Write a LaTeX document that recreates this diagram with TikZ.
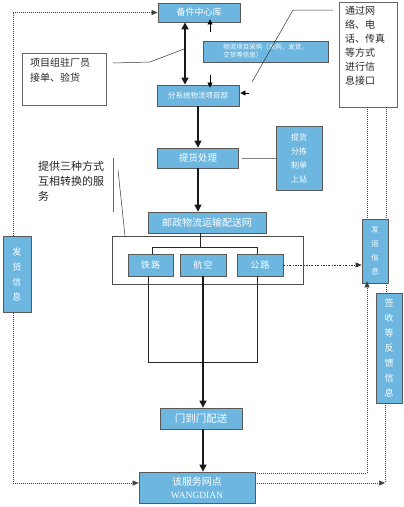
\documentclass[tikz,border=0pt]{standalone}
\usepackage{fontspec}
\setmainfont{Liberation Serif}
\newfontfamily\cjk{Noto Sans CJK SC}
\usetikzlibrary{arrows.meta}
\definecolor{boxblue}{RGB}{108,182,224}
\tikzset{
  bluebox/.style={draw=black!65, fill=boxblue, line width=0.8pt, inner sep=0pt, text=white, align=center},
  notebox/.style={draw=black!60, line width=0.6pt},
  notetext/.style={text=black!85, align=left, inner sep=0pt, anchor=north west},
  flow/.style={line width=1.4pt, black!90, -{Triangle[length=7pt,width=7pt]}},
  dblflow/.style={line width=1.6pt, black!90, {Triangle[length=7pt,width=7pt]}-{Triangle[length=7pt,width=7pt]}},
  thinline/.style={line width=1pt, black!85},
  dotline/.style={line width=0.5pt, black!75, dash pattern=on 0.8pt off 1.2pt},
  dashdotline/.style={line width=0.6pt, black!80, dash pattern=on 2pt off 1.5pt on 0.6pt off 1.5pt},
  dottip/.style={-{Triangle[length=6pt,width=5pt]}},
  smalltip/.style={line width=0.6pt, -{Triangle[length=5pt,width=5pt]}},
  callout/.style={line width=0.5pt, black!80},
}
\begin{document}
\begin{tikzpicture}[x=1pt,y=-1pt]
\useasboundingbox (0,0) rectangle (404,507);

% group frame
\node[draw=black!70, line width=0.7pt, minimum width=191pt, minimum height=48pt, inner sep=0pt] (grp) at (207.5,260) {};

% blue boxes
\node[bluebox, minimum width=82pt, minimum height=19pt, font=\cjk\fontsize{9}{10}\selectfont] (bj) at (199,12.5) {备件中心库};
\node[bluebox, minimum width=125pt, minimum height=21pt, align=left, font=\cjk\fontsize{6.5}{8}\selectfont] (info) at (265.5,51.5) {物流项目采购（采购，发货，\\交货等信息）};
\node[bluebox, minimum width=82pt, minimum height=21pt, font=\cjk\fontsize{7.5}{9}\selectfont] (fx) at (198,95.5) {分系统物流项目部};
\node[bluebox, minimum width=81pt, minimum height=20pt, font=\cjk\fontsize{9.5}{10}\selectfont] (th) at (198,158) {提货处理};
\node[bluebox, minimum width=46pt, minimum height=64pt, font=\cjk\fontsize{8}{14}\selectfont] (fj) at (299,158) {提货\\分拣\\制单\\上站};
\node[bluebox, minimum width=118pt, minimum height=21pt, font=\cjk\fontsize{10}{11}\selectfont] (yz) at (207,222.5) {邮政物流运输配送网};
\node[bluebox, minimum width=45pt, minimum height=22pt, font=\cjk\fontsize{9}{10}\selectfont] (tl) at (150.5,265) {铁\,路};
\node[bluebox, minimum width=46pt, minimum height=22pt, font=\cjk\fontsize{9}{10}\selectfont] (hk) at (203,265) {航\,空};
\node[bluebox, minimum width=46pt, minimum height=22pt, font=\cjk\fontsize{9}{10}\selectfont] (gl) at (260,265) {公\,路};
\node[bluebox, minimum width=82pt, minimum height=21pt, font=\cjk\fontsize{10.5}{11}\selectfont] (mm) at (201,418.5) {门到门配送};
\node[bluebox, minimum width=116pt, minimum height=31pt, font=\cjk\fontsize{10}{13}\selectfont] (wd) at (197,487.5) {该服务网点\\{\rmfamily\fontsize{9.5}{11}\selectfont WANGDIAN}};
\node[bluebox, minimum width=28pt, minimum height=76pt, font=\cjk\fontsize{9}{15}\selectfont] (fh) at (17,274.5) {发\\货\\信\\息};
\node[bluebox, minimum width=26pt, minimum height=64pt, font=\cjk\fontsize{7.5}{14}\selectfont] (fy) at (375,251) {发\\运\\信\\息};
\node[bluebox, minimum width=26pt, minimum height=110pt, font=\cjk\fontsize{9}{15}\selectfont] (qs) at (389,348) {签\\收\\等\\反\\馈\\信\\息};

% note boxes
\node[notebox, minimum width=84pt, minimum height=52pt, inner sep=0pt] (n1) at (64,79) {};
\node[notetext, font=\cjk\fontsize{10}{15}\selectfont] (n1t) at (30,58) {项目组驻厂员\\接单、验货};
\node[notebox, minimum width=58pt, minimum height=105pt, inner sep=0pt] (n2) at (368,54.5) {};
\node[notetext, font=\cjk\fontsize{10}{14}\selectfont] (n2t) at (345,6) {通过网\\络、电\\话、传真\\等方式\\进行信\\息接口};
\node[notetext, font=\cjk\fontsize{11}{15}\selectfont] (n3t) at (38,161) {提供三种方式\\互相转换的服\\务};
\coordinate (n3top) at (113,158);
\coordinate (n3bot) at (113,212);
\draw[notebox] (n3top) -- (n3bot);

% main flow
\coordinate (dx) at (185,0);
\draw[dblflow] (bj.south -| dx) -- (fx.north -| dx);
\draw[flow] (fx.south) -- (th.north);
\draw[flow] (th.south) -- (th.south |- yz.north);
\draw[gray, line width=0.8pt] ([xshift=3pt]th.east) -- (fj.west);

% small arrows around info box
\coordinate (s1) at (210,32);
\coordinate (s2) at (210,75);
\coordinate (s3) at (249,93);
\draw[smalltip] (s1) -- ([yshift=3pt]s1 |- bj.south);
\draw[smalltip] (s2) -- ([yshift=-3pt]s2 |- fx.north);
\draw[smalltip] (s3) -- ([xshift=1pt]s3 -| fx.east);

% distribution bracket
\coordinate (stem) at (200,247);
\coordinate (bl) at (152,247);
\coordinate (brr) at (257,247);
\draw[thinline] (yz.south -| stem) -- (stem);
\draw[thinline] (tl.north -| bl) -- (bl) -- (brr) -- (gl.north -| brr);
\coordinate (ll) at (148,362);
\coordinate (lr) at (257,362);
\draw[thinline] (tl.south -| ll) -- (ll) -- (lr) -- (gl.south -| lr);
\draw[flow] (hk.south) -- (hk.south |- mm.north);
\draw[flow] (hk.south |- mm.south) -- (hk.south |- wd.north);

% dotted information loops
\coordinate (tlc) at (13,12.5);
\coordinate (blc) at (13,483);
\draw[dotline] (fh.north -| tlc) -- (tlc);
\draw[dotline, dottip] (tlc) -- (bj.west);
\draw[dotline] (fh.south -| blc) -- (blc);
\draw[dotline, dottip] (blc) -- (blc -| wd.west);

\coordinate (r1) at (367,473);
\coordinate (r2) at (385,483);
\draw[dotline] (wd.east |- r1) -- (r1);
\draw[dotline, dottip] (r1) -- ([yshift=2pt]r1 |- fy.south);
\draw[dotline] (qs.south -| r2) -- (r2);
\draw[dotline, dottip] (wd.east |- r2) -- (r2);
\coordinate (v1) at (367,0);
\coordinate (v2) at (386,0);
\draw[dotline] (n2.south -| v1) -- (fy.north -| v1);
\draw[dotline] (n2.south -| v2) -- (fy.north -| v2);
\draw[dotline] (fy.south -| v2) -- (qs.north -| v2);
\draw[dashdotline, dottip] (gl.east) -- (gl.east -| fy.west);

% callout lines
\coordinate (c1a) at (113,63);
\coordinate (c1b) at (150,62);
\coordinate (c1c) at (184,49);
\draw[callout] (c1a) -- (c1b) -- (c1c);
\coordinate (c2a) at (333,10);
\coordinate (c2b) at (293,10);
\coordinate (c2c) at (252,82);
\draw[callout] (c2a) -- (c2b) -- (c2c);
\coordinate (c3a) at (118,170);
\coordinate (c3b) at (125,236);
\draw[callout] (c3a) -- (c3b);
\end{tikzpicture}
\end{document}
